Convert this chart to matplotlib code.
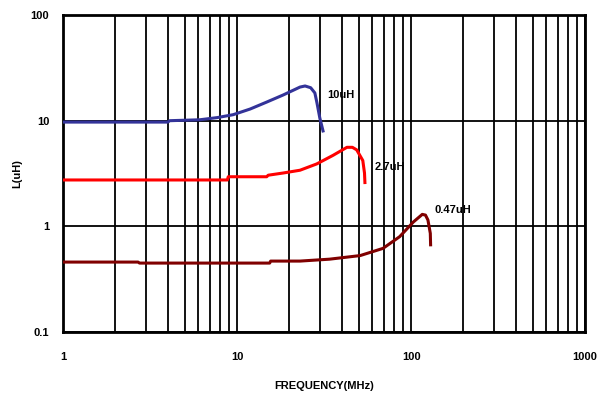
import numpy as np
import matplotlib
matplotlib.use('Agg')
import matplotlib.pyplot as plt
from matplotlib.ticker import FixedLocator, NullFormatter

# inductance vs frequency
f_10u = [1, 4.0, 4.1, 6.1, 7.7, 9.5, 11.9, 14.8, 18.4, 23, 24.6, 26.5, 28.0, 28.8, 29.9, 31.2]
L_10u = [9.7, 9.7, 10.0, 10.2, 10.7, 11.4, 12.9, 15.0, 17.5, 20.8, 21.3, 20.5, 18.3, 14.7, 10.6, 8.0]

f_27u = [1, 8.8, 8.9, 14.8, 15.1, 18.4, 23, 28.7, 35.6, 42.8, 46, 48.7, 52.8, 54.0, 54.3]
L_27u = [2.75, 2.75, 2.95, 2.95, 3.05, 3.2, 3.4, 3.9, 4.7, 5.6, 5.6, 5.3, 4.2, 3.2, 2.6]

f_047u = [1, 2.7, 2.75, 15.4, 15.6, 23, 34, 51, 69, 86, 103, 116, 121, 125, 129, 129.5]
L_047u = [0.46, 0.46, 0.45, 0.45, 0.47, 0.47, 0.49, 0.53, 0.62, 0.8, 1.1, 1.3, 1.28, 1.15, 0.86, 0.67]

labels = ['10uH', '2.7uH', '0.47uH']
label_pos = [(33, 17.5), (62, 3.65), (137, 1.43)]

plt.rcParams['font.family'] = 'Liberation Sans'
plt.rcParams['font.weight'] = 'bold'
plt.rcParams['axes.labelweight'] = 'bold'

fig = plt.figure(figsize=(5.98, 3.94), dpi=100)
ax = fig.add_axes([0.1054, 0.157, 0.873, 0.805])

ax.set_xscale('log')
ax.set_yscale('log')
ax.set_xlim(1, 1000)
ax.set_ylim(0.1, 100)

# vertical grid at every 1..9 step, horizontal only at decades
vx = [m * 10**d for d in range(3) for m in range(1, 10)] + [1000]
ax.xaxis.set_minor_locator(FixedLocator(vx))
ax.xaxis.set_minor_formatter(NullFormatter())
ax.yaxis.set_minor_locator(FixedLocator([]))
ax.set_xticks([1, 10, 100, 1000])
ax.set_xticklabels(['1', '10', '100', '1000'])
ax.set_yticks([0.1, 1, 10, 100])
ax.set_yticklabels(['0.1', '1', '10', '100'])
ax.grid(which='both', axis='x', color='black', linewidth=1.3, zorder=3)
ax.grid(which='major', axis='y', color='black', linewidth=1.3, zorder=3)
ax.tick_params(which='both', length=0, labelsize=8)
ax.tick_params(axis='x', pad=14)
ax.tick_params(axis='y', pad=10)
for s in ax.spines.values():
    s.set_linewidth(2)

ax.plot(f_10u, L_10u, color='#333399', linewidth=2.2, zorder=4)
ax.plot(f_27u, L_27u, color='#ff0000', linewidth=2.2, zorder=4)
ax.plot(f_047u, L_047u, color='#800000', linewidth=2.2, zorder=4)

for t, (x, y) in zip(labels, label_pos):
    ax.text(x, y, t, fontsize=8, va='center', ha='left', zorder=1)

ax.set_xlabel('FREQUENCY(MHz)', fontsize=8, fontweight='bold', labelpad=14)
ax.set_ylabel('L(uH)', fontsize=8, fontweight='bold', labelpad=6)

plt.savefig('out.png', dpi=100)
